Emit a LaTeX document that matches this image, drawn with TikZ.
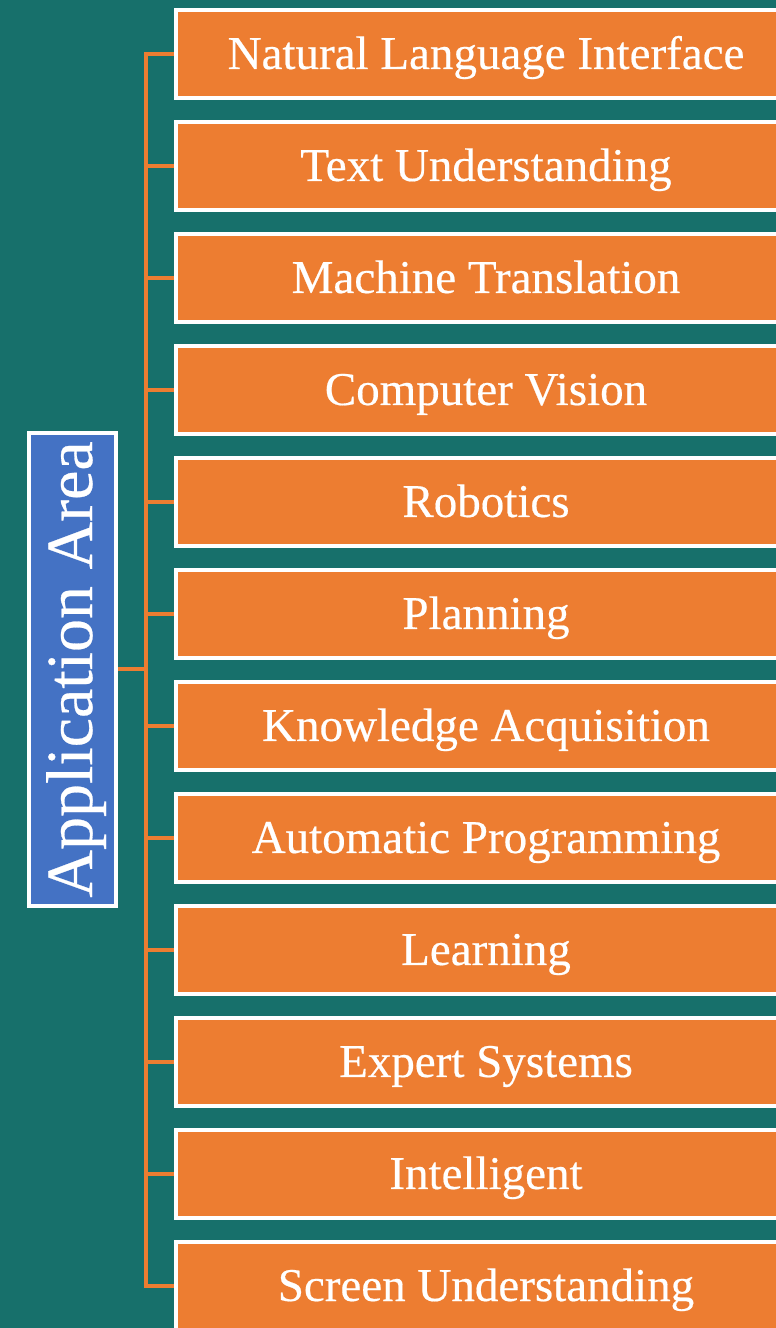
\documentclass[tikz,border=0pt]{standalone}
\usepackage{fontspec}
\setmainfont[FakeBold=0.4]{Liberation Serif}
\definecolor{bgteal}{HTML}{17706B}
\definecolor{boxorange}{HTML}{ED7D31}
\definecolor{rootblue}{HTML}{4472C4}
\begin{document}
\begin{tikzpicture}[x=1pt,y=1pt,
  item/.style={draw=white, line width=4pt, fill=boxorange, text=white,
    minimum width=620pt, minimum height=88pt, inner sep=0pt,
    text height=38pt, text depth=8pt,
    font=\fontsize{47}{50}\selectfont},
  rootbox/.style={draw=white, line width=4pt, fill=rootblue, text=white,
    minimum width=473pt, minimum height=87pt, inner sep=0pt, rotate=90,
    text height=48pt, text depth=9pt,
    font=\fontsize{66}{70}\selectfont},
  conn/.style={draw=boxorange, line width=4pt}]
\fill[bgteal] (0,0) rectangle (776,1328);
\useasboundingbox (0,0) rectangle (776,1328);
\coordinate (sp) at (145.5,0);
\node[rootbox] (root) at (72.5,658.5) {Application Area};
\foreach \t [count=\i] in {Natural Language Interface,Text Understanding,Machine Translation,Computer Vision,Robotics,Planning,Knowledge Acquisition,Automatic Programming,Learning,Expert Systems,Intelligent,Screen Understanding}{
  \node[item] (b\i) at (486,{1274-112*(\i-1)}) {\t};
}
\draw[conn] (b1.west) -- (b1.west -| sp) -- (b12.west -| sp) -- (b12.west);
\foreach \i in {2,...,11}{
  \draw[conn] (b\i.west) -- (b\i.west -| sp);
}
\draw[conn] (root.south) -- (root.south -| sp);
\end{tikzpicture}
\end{document}
